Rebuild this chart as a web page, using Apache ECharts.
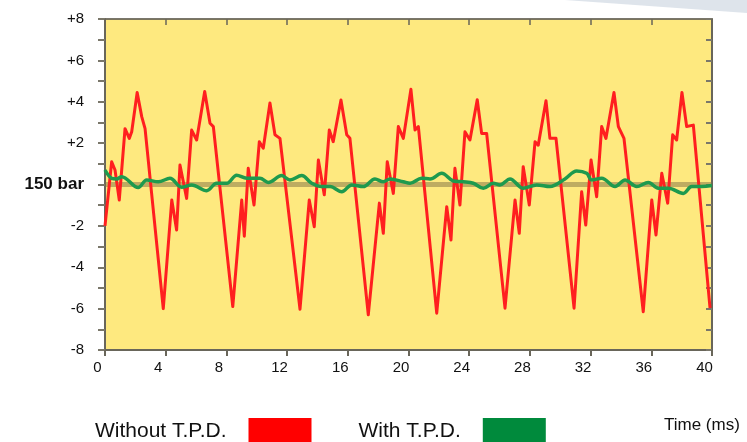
<!DOCTYPE html>
<html><head><meta charset="utf-8">
<script src="https://cdn.jsdelivr.net/npm/echarts@6/dist/echarts.min.js"></script>
<style>html,body{margin:0;padding:0;background:#fff;}#c{width:747px;height:442px;}</style>
</head><body><div id="c"></div>
<script>
// ---- data ----
const seriesNames = ['Without T.P.D.', 'With T.P.D.'];
const xAxisName = 'Time (ms)';
const yTickLabels = {'8':'+8','6':'+6','4':'+4','2':'+2','0':'150 bar','-2':'-2','-4':'-4','-6':'-6','-8':'-8'};

const redTime = [0.0,0.44,0.66,0.94,1.32,1.60,1.76,2.12,2.42,2.64,
  3.84,4.40,4.72,4.94,5.38,5.71,6.04,6.57,6.92,7.14,
  8.42,9.01,9.18,9.44,9.82,10.17,10.43,10.87,11.20,11.53,
  12.85,13.46,13.79,14.06,14.45,14.78,15.04,15.55,15.93,16.14,
  17.35,18.08,18.34,18.60,19.00,19.33,19.66,20.16,20.43,20.65,
  21.86,22.52,22.80,23.06,23.39,23.72,24.05,24.53,24.82,25.15,
  26.36,27.02,27.30,27.56,27.96,28.34,28.55,29.06,29.32,29.72,
  30.91,31.41,31.68,32.03,32.40,32.73,33.01,33.54,33.83,34.20,
  35.47,36.03,36.31,36.69,37.08,37.41,37.67,38.02,38.33,38.77,
  39.87];
const redValue = [-2.0,1.1,0.7,-0.75,2.7,2.23,2.55,4.45,3.28,2.7,
  -6.0,-0.75,-2.2,0.94,-0.67,2.63,2.15,4.5,2.96,2.8,
  -5.9,-0.75,-2.5,0.78,-0.99,2.07,1.75,3.94,2.4,2.23,
  -6.03,-0.75,-2.04,1.18,-0.5,2.63,2.07,4.08,2.4,2.23,
  -6.3,-0.9,-2.36,1.1,-0.43,2.8,2.23,4.6,2.63,2.8,
  -6.22,-1.07,-2.68,0.78,-0.99,2.55,2.15,4.1,2.47,2.47,
  -5.98,-0.75,-2.36,0.86,-0.99,2.07,1.9,4.05,2.23,2.23,
  -5.98,-0.35,-1.96,1.18,-0.59,2.8,2.23,4.45,2.8,2.23,
  -6.15,-0.75,-2.44,0.54,-0.9,2.4,2.15,4.45,2.8,2.87,
  -5.98];

const greenTime = [0.0,0.44,0.77,1.10,2.19,2.75,3.51,4.28,5.05,5.71,
  6.70,7.36,8.02,8.68,9.34,10.21,10.76,11.64,12.19,12.96,
  13.62,14.28,14.83,15.60,16.26,17.02,17.79,18.34,18.78,19.66,
  20.10,20.87,21.42,22.19,22.95,23.61,24.27,24.93,25.59,26.03,
  26.69,27.56,28.45,29.32,30.31,31.08,31.74,32.07,32.73,33.61,
  34.27,35.04,35.80,36.46,37.12,38.11,38.66,39.32,40.0];
const greenValue = [0.7,0.3,0.27,0.38,-0.15,0.22,0.13,0.3,-0.13,-0.02,
  -0.3,0.06,0.06,0.45,0.3,0.3,0.1,0.43,0.22,0.43,
  0.06,-0.1,-0.1,-0.35,-0.02,-0.1,0.27,0.13,0.27,0.13,
  0.06,0.3,0.27,0.54,0.17,0.13,0.06,-0.18,0.06,-0.02,
  0.27,-0.18,-0.02,-0.1,0.27,0.65,0.54,0.22,0.3,-0.1,
  0.22,-0.1,0.1,-0.18,-0.18,-0.43,-0.1,-0.1,-0.05];

function pairs(t, v) { return t.map((x, i) => [x, v[i]]); }

const FONT = "'Liberation Sans', Arial, Helvetica, sans-serif";
const AXC = '#69665a';
const chart = echarts.init(document.getElementById('c'), null, {renderer: 'canvas'});
const option = {
  animation: false,
  backgroundColor: '#ffffff',
  graphic: [{
    type: 'polygon', z: -10, silent: true,
    shape: {points: [[565, 0], [747, 0], [747, 13]]},
    style: {fill: 'rgba(214,221,230,0.8)'}
  }],
  title: {
    text: xAxisName, left: 664, top: 417, padding: 0,
    textStyle: {fontSize: 17, fontWeight: 'normal', color: '#111', fontFamily: FONT}
  },
  legend: {
    left: 95, top: 418, align: 'right', orient: 'horizontal', padding: 0,
    itemWidth: 63, itemHeight: 27, itemGap: 47, selectedMode: false,
    textStyle: {fontSize: 21, color: '#111', fontFamily: FONT, padding: [0, 17, 0, 0]},
    data: [
      {name: seriesNames[0], icon: 'rect', itemStyle: {color: '#ff0000'}},
      {name: seriesNames[1], icon: 'rect', itemStyle: {color: '#008a3c'}}
    ]
  },
  grid: {
    left: 105, top: 19, width: 607, height: 331, show: true,
    backgroundColor: '#FEE97F', borderColor: '#5e5a4e', borderWidth: 1
  },
  xAxis: [
    {
      type: 'value', min: 0, max: 40, interval: 4, position: 'bottom',
      axisLine: {show: true, onZero: false, lineStyle: {color: AXC, width: 2}},
      axisTick: {show: true, inside: false, length: 6, lineStyle: {color: AXC, width: 2}},
      axisLabel: {fontSize: 15, color: '#111', fontFamily: FONT, margin: 10, padding: [0, 15, 0, 0]},
      splitLine: {show: false}
    },
    {
      type: 'value', min: 0, max: 40, interval: 4, position: 'top',
      axisLine: {show: true, onZero: false, lineStyle: {color: AXC, width: 1.5}},
      axisTick: {show: true, inside: true, length: 6, lineStyle: {color: AXC, width: 1.5}},
      axisLabel: {show: false}, splitLine: {show: false}
    }
  ],
  yAxis: [
    {
      type: 'value', min: -8, max: 8, interval: 2, position: 'left',
      axisLine: {show: true, onZero: false, lineStyle: {color: AXC, width: 2}},
      axisTick: {show: true, inside: false, length: 7, lineStyle: {color: '#7a776a', width: 2}},
      minorTick: {show: true, splitNumber: 2, length: 7, lineStyle: {color: '#7a776a', width: 2}},
      axisLabel: {
        fontSize: 15, color: '#111', fontFamily: FONT, margin: 21,
        formatter: v => v === 0 ? '{b|' + yTickLabels['0'] + '}' : yTickLabels[String(v)],
        rich: {b: {fontSize: 17, fontWeight: 'bold', color: '#111', fontFamily: FONT}}
      },
      splitLine: {show: false}, minorSplitLine: {show: false}
    },
    {
      type: 'value', min: -8, max: 8, interval: 2, position: 'right',
      axisLine: {show: true, onZero: false, lineStyle: {color: AXC, width: 2}},
      axisTick: {show: true, inside: true, length: 6, lineStyle: {color: '#7a776a', width: 2}},
      minorTick: {show: true, splitNumber: 2, length: 6, lineStyle: {color: '#7a776a', width: 2}},
      axisLabel: {show: false}, splitLine: {show: false}, minorSplitLine: {show: false}
    }
  ],
  series: [
    {
      name: seriesNames[0], type: 'line', xAxisIndex: 0, yAxisIndex: 0,
      data: pairs(redTime, redValue), symbol: 'none', showSymbol: false, z: 3,
      lineStyle: {color: '#ff1f1f', width: 3, join: 'round'}, itemStyle: {color: '#ff0000'},
      markLine: {
        silent: true, symbol: 'none', z: 1, label: {show: false},
        lineStyle: {color: 'rgba(125,112,68,0.5)', width: 5, type: 'solid'},
        data: [{yAxis: 0}]
      }
    },
    {
      name: seriesNames[1], type: 'line', xAxisIndex: 0, yAxisIndex: 0,
      data: pairs(greenTime, greenValue), symbol: 'none', showSymbol: false, z: 4,
      smooth: 0.35,
      lineStyle: {color: '#1e9a4e', width: 3.5}, itemStyle: {color: '#008a3c'}
    }
  ]
};
chart.setOption(option);
</script>
</body></html>
